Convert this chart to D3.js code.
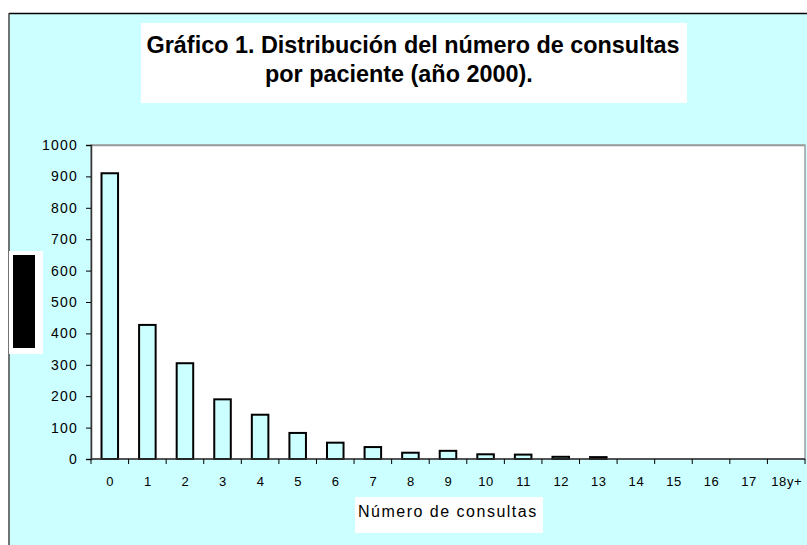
<!DOCTYPE html>
<html><head><meta charset="utf-8">
<script src="https://cdn.jsdelivr.net/npm/d3@7/dist/d3.min.js"></script>
<style>
html,body{margin:0;padding:0;background:#fff;}
svg{display:block;}
text{font-family:Arial,"Liberation Sans",Helvetica,sans-serif;}
</style></head>
<body>
<script>
const categories = ["0","1","2","3","4","5","6","7","8","9","10","11","12","13","14","15","16","17","18y+"];
const values = [910, 427, 305, 190, 141, 83, 52, 38, 20, 26, 15, 14, 7, 6, 0, 0, 0, 0, 0];
const yTicks = [0,100,200,300,400,500,600,700,800,900,1000];
const titleLines = ["Gráfico 1. Distribución del número de consultas", "por paciente (año 2000)."];
const xTitle = "Número de consultas";

const W = 807, H = 545;
const svg = d3.select("body").append("svg").attr("width", W).attr("height", H);

// outer chart area
svg.append("rect").attr("x", 9).attr("y", 13).attr("width", W).attr("height", H)
  .attr("fill", "#CCFFFF");
svg.append("line").attr("x1", 9).attr("x2", W).attr("y1", 13.5).attr("y2", 13.5)
  .attr("stroke", "#000").attr("stroke-width", 1.3);
svg.append("line").attr("x1", 9).attr("x2", 9).attr("y1", 13).attr("y2", H)
  .attr("stroke", "#444").attr("stroke-width", 1.5);

// title box
svg.append("rect").attr("x", 141).attr("y", 23).attr("width", 546).attr("height", 80).attr("fill", "#fff");
const tt = svg.append("text").attr("font-weight", "bold").attr("font-size", 23.4).attr("fill", "#000");
tt.append("tspan").attr("x", 413).attr("y", 53).attr("text-anchor", "middle").text(titleLines[0]);
tt.append("tspan").attr("x", 265).attr("y", 82).attr("text-anchor", "start").text(titleLines[1]);

// plot area
const L = 91, R = 805, T = 145, B = 459;
svg.append("rect").attr("x", L).attr("y", T).attr("width", R - L).attr("height", B - T)
  .attr("fill", "#fff").attr("stroke", "#888").attr("stroke-width", 1.2);
svg.append("line").attr("x1", L).attr("x2", R).attr("y1", T + 0.5).attr("y2", T + 0.5)
  .attr("stroke", "#999").attr("stroke-width", 1.5);

const x = d3.scaleBand().domain(categories).range([L, R]).padding(0);
const y = d3.scaleLinear().domain([0, 1000]).range([B, T]);

// bars
const bw = x.bandwidth() * 0.44;
svg.append("g").selectAll("rect").data(values.map((v, i) => ({c: categories[i], v})).filter(d => d.v > 0))
  .join("rect")
  .attr("x", d => x(d.c) + x.bandwidth() / 2 - bw / 2)
  .attr("y", d => y(d.v))
  .attr("width", bw)
  .attr("height", d => B - y(d.v))
  .attr("fill", "#CCFFFF").attr("stroke", "#000").attr("stroke-width", 2);

// y axis
const ya = svg.append("g").attr("transform", `translate(${L},0)`)
  .call(d3.axisLeft(y).tickValues(yTicks).tickSize(5).tickPadding(8).tickFormat(d3.format("d")));
ya.select(".domain").attr("stroke", "#333").attr("stroke-width", 1.5);
ya.selectAll(".tick line").attr("stroke", "#000");
ya.selectAll(".tick text").attr("font-size", 14).attr("fill", "#000")
  .attr("letter-spacing", 1.2).attr("font-family", "Arial, 'Liberation Sans', sans-serif");

// x axis: ticks at band boundaries
const xa = svg.append("g").attr("transform", `translate(0,${B})`);
xa.append("line").attr("x1", L).attr("x2", R).attr("y1", 0).attr("y2", 0).attr("stroke", "#333").attr("stroke-width", 1.5);
const bounds = categories.map(c => x(c)).concat([R]);
xa.selectAll("line.tk").data(bounds).join("line").attr("class", "tk")
  .attr("x1", d => d).attr("x2", d => d).attr("y1", 0).attr("y2", 5).attr("stroke", "#000");
xa.selectAll("text").data(categories).join("text")
  .attr("x", d => x(d) + x.bandwidth() / 2 + 0.5).attr("y", 27)
  .attr("text-anchor", "middle").attr("font-size", 13).attr("letter-spacing", 0.6)
  .attr("fill", "#000").text(d => d);

// y axis title placeholder (black block as in reference)
svg.append("rect").attr("x", 9).attr("y", 251).attr("width", 34).attr("height", 103).attr("fill", "#fff");
svg.append("rect").attr("x", 13).attr("y", 255).attr("width", 22).attr("height", 93).attr("fill", "#000");

// x axis title
svg.append("rect").attr("x", 355).attr("y", 497).attr("width", 188).attr("height", 36).attr("fill", "#fff");
svg.append("text").attr("x", 358).attr("y", 517).attr("font-size", 16).attr("letter-spacing", 1.5)
  .attr("fill", "#000").text(xTitle);
</script>
</body></html>
